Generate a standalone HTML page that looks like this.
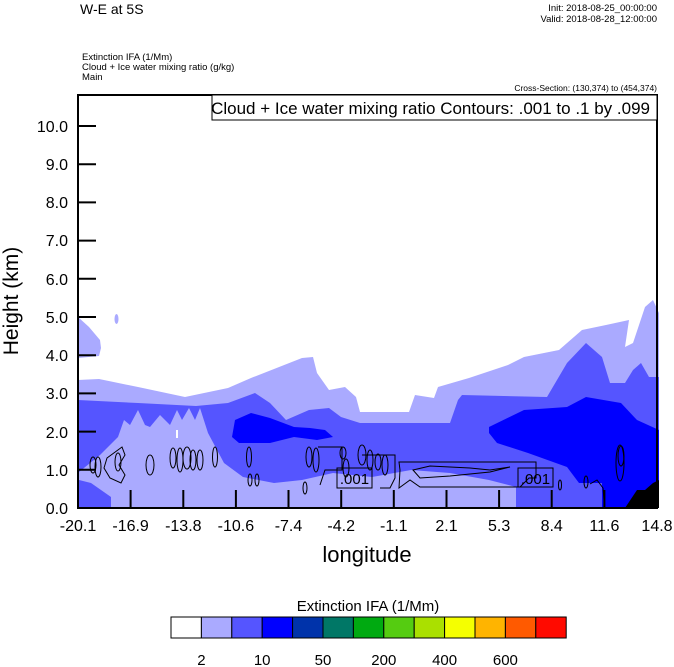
<!DOCTYPE html>
<html><head><meta charset="utf-8"><style>
html,body{margin:0;padding:0;background:#fff;}
svg{display:block;font-family:"Liberation Sans",sans-serif;}
</style></head><body>
<svg width="674" height="667" viewBox="0 0 674 667" xmlns="http://www.w3.org/2000/svg">
<rect width="674" height="667" fill="#fff"/>
<text x="80" y="14" font-size="14">W-E at 5S</text>
<text x="657" y="11" font-size="9.5" text-anchor="end">Init: 2018-08-25_00:00:00</text>
<text x="657" y="22" font-size="9.5" text-anchor="end">Valid: 2018-08-28_12:00:00</text>
<text x="82" y="60" font-size="9.5">Extinction IFA   (1/Mm)</text>
<text x="82" y="70" font-size="9.5">Cloud + Ice water mixing ratio   (g/kg)</text>
<text x="82" y="80" font-size="9.5">Main</text>
<text x="657" y="91" font-size="8.5" text-anchor="end">Cross-Section: (130,374) to (454,374)</text>

<g>
<!-- light layer -->
<polygon fill="#aaaaff" points="78,317 89,327 100,340 101,348 99,356 78,358"/>
<ellipse cx="116.5" cy="319" rx="2" ry="5" fill="#aaaaff"/>
<polygon fill="#aaaaff" points="78,380 99,379 138,387 185,397 228,388 251,378 302,358 313,357 317,373 329,390 345,387 356,397 360,412 409,412 415,395 434,398 438,387 469,378 508,365 524,357 559,350 582,330 606,325 629,320 625,347 633,343 645,307 653,300 659,313 659,508 78,508"/>
<!-- mid layer -->
<polygon fill="#5555ff" points="78,400 138,403 196,406 228,403 255,393 270,403 286,420 309,410 329,408 341,417 360,423 450,423 458,400 462,395 547,397 567,363 586,343 602,357 610,383 625,383 633,370 641,363 649,377 659,377 659,508 78,508"/>
<!-- lower light region -->
<polygon fill="#aaaaff" points="79,472 100,455 118,437 124,420 130,425 138,410 145,425 150,427 160,415 170,425 177,410 182,420 189,408 195,420 200,408 208,433 224,463 243,477 274,483 302,480 333,473 372,477 411,470 450,473 489,480 516,487 516,508 111,508 111,497 91,483 79,480"/>
<!-- blue -->
<polygon fill="#0000ff" points="235,420 251,413 270,418 294,427 310,428 325,430 333,437 317,440 294,437 270,443 239,443 232,437"/>
<polygon fill="#0000ff" points="489,427 524,410 567,407 586,397 621,403 637,420 659,430 659,508 602,508 602,483 579,483 567,467 528,453 497,443 489,433"/>
<polygon fill="#000" points="625,508 637,490 645,490 653,483 659,480 659,508"/>
<rect x="176" y="430" width="2" height="8" fill="#fff"/>
</g>

<!-- contours -->
<g fill="none" stroke="#000" stroke-width="1">
<ellipse cx="93" cy="465" rx="3" ry="8"/>
<ellipse cx="98" cy="467" rx="3" ry="10"/>
<path d="M107,458 L122,447 L125,455 L119,465 L125,475 L121,483 L110,478 L104,468 Z"/>
<ellipse cx="118" cy="462" rx="3" ry="9"/>
<ellipse cx="150" cy="465" rx="4" ry="10"/>
<ellipse cx="173" cy="458" rx="3" ry="10"/>
<ellipse cx="180" cy="460" rx="3" ry="12"/>
<ellipse cx="187" cy="458" rx="4" ry="11"/>
<ellipse cx="193" cy="460" rx="3" ry="10"/>
<ellipse cx="200" cy="460" rx="3" ry="10"/>
<ellipse cx="215" cy="457" rx="2.5" ry="10"/>
<ellipse cx="249" cy="457" rx="2.5" ry="10"/>
<ellipse cx="250" cy="480" rx="2" ry="6"/>
<ellipse cx="257" cy="480" rx="2" ry="6"/>
<ellipse cx="309" cy="457" rx="3" ry="10"/>
<ellipse cx="316" cy="460" rx="3" ry="12"/>
<ellipse cx="305" cy="488" rx="2" ry="6"/>
<path d="M318,447 L342,447 L342,470 L325,470 L320,485"/>
<ellipse cx="343" cy="453" rx="3" ry="6"/>
<ellipse cx="346" cy="468" rx="3" ry="9"/>
<ellipse cx="362" cy="455" rx="4" ry="10"/>
<ellipse cx="370" cy="460" rx="3" ry="10"/>
<ellipse cx="378" cy="462" rx="3" ry="8"/>
<path d="M362,455 L395,455 L395,478 L390,488 L380,488"/>
<ellipse cx="385" cy="465" rx="3" ry="10"/>
<path d="M399,462 L536,462 L536,478 L529,478 L520,487 L420,487 L410,480 L399,488 L400,470 Z"/>
<path d="M413,470 L430,466 L470,468 L490,470 L510,467 L490,472 L450,476 L420,478 Z"/>
<ellipse cx="560" cy="485" rx="1.5" ry="5"/>
<ellipse cx="586" cy="482" rx="2" ry="6"/>
<path d="M590,484 L597,480 L603,488 L604,500"/>
<ellipse cx="620" cy="463" rx="4" ry="18"/>
<ellipse cx="621" cy="456" rx="3" ry="10"/>
</g>
<g font-size="15">
<rect x="337" y="468" width="35" height="20" fill="none" stroke="#000"/>
<text x="354.5" y="484" text-anchor="middle">.001</text>
<rect x="518" y="468" width="35" height="19" fill="none" stroke="#000"/>
<text x="535.5" y="484" text-anchor="middle">.001</text>
</g>

<!-- axes frame -->
<rect x="78" y="95" width="579" height="413" fill="none" stroke="#000" stroke-width="2"/>
<rect x="212" y="95" width="445" height="25" fill="#fff" stroke="#000" stroke-width="1"/>
<text x="650" y="114" font-size="17" text-anchor="end">Cloud + Ice water mixing ratio Contours: .001 to .1 by .099</text>

<!-- y ticks -->
<g stroke="#000" stroke-width="2">
<line x1="78" y1="126" x2="96" y2="126"/><line x1="78" y1="164.2" x2="96" y2="164.2"/>
<line x1="78" y1="202.4" x2="96" y2="202.4"/><line x1="78" y1="240.6" x2="96" y2="240.6"/>
<line x1="78" y1="278.8" x2="96" y2="278.8"/><line x1="78" y1="317" x2="96" y2="317"/>
<line x1="78" y1="355.2" x2="96" y2="355.2"/><line x1="78" y1="393.4" x2="96" y2="393.4"/>
<line x1="78" y1="431.6" x2="96" y2="431.6"/><line x1="78" y1="469.8" x2="96" y2="469.8"/>
<line x1="130.6" y1="508" x2="130.6" y2="490"/><line x1="183.3" y1="508" x2="183.3" y2="490"/>
<line x1="235.9" y1="508" x2="235.9" y2="490"/><line x1="288.5" y1="508" x2="288.5" y2="490"/>
<line x1="341.2" y1="508" x2="341.2" y2="490"/><line x1="393.8" y1="508" x2="393.8" y2="490"/>
<line x1="446.5" y1="508" x2="446.5" y2="490"/><line x1="499.1" y1="508" x2="499.1" y2="490"/>
<line x1="551.7" y1="508" x2="551.7" y2="490"/><line x1="604.4" y1="508" x2="604.4" y2="490"/>
</g>
<g font-size="16" text-anchor="end">
<text x="68" y="132">10.0</text><text x="68" y="170">9.0</text><text x="68" y="208">8.0</text>
<text x="68" y="246">7.0</text><text x="68" y="285">6.0</text><text x="68" y="323">5.0</text>
<text x="68" y="361">4.0</text><text x="68" y="399">3.0</text><text x="68" y="438">2.0</text>
<text x="68" y="476">1.0</text><text x="68" y="514">0.0</text>
</g>
<g font-size="16" text-anchor="middle">
<text x="78" y="531">-20.1</text><text x="130.6" y="531">-16.9</text><text x="183.3" y="531">-13.8</text>
<text x="235.9" y="531">-10.6</text><text x="288.5" y="531">-7.4</text><text x="341.2" y="531">-4.2</text>
<text x="393.8" y="531">-1.1</text><text x="446.5" y="531">2.1</text><text x="499.1" y="531">5.3</text>
<text x="551.7" y="531">8.4</text><text x="604.4" y="531">11.6</text><text x="657" y="531">14.8</text>
</g>
<text x="367" y="562" font-size="22" text-anchor="middle">longitude</text>
<text transform="translate(18,301) rotate(-90)" font-size="21" text-anchor="middle">Height (km)</text>

<!-- colorbar -->
<text x="368" y="611" font-size="15" text-anchor="middle">Extinction IFA  (1/Mm)</text>
<g stroke="#000" stroke-width="1">
<rect x="171" y="617" width="30.4" height="21" fill="#ffffff"/>
<rect x="201.4" y="617" width="30.4" height="21" fill="#aaaaff"/>
<rect x="231.8" y="617" width="30.4" height="21" fill="#5555ff"/>
<rect x="262.2" y="617" width="30.4" height="21" fill="#0000ff"/>
<rect x="292.6" y="617" width="30.4" height="21" fill="#0033aa"/>
<rect x="323" y="617" width="30.4" height="21" fill="#007766"/>
<rect x="353.4" y="617" width="30.4" height="21" fill="#00aa11"/>
<rect x="383.8" y="617" width="30.4" height="21" fill="#55cc11"/>
<rect x="414.2" y="617" width="30.4" height="21" fill="#aae000"/>
<rect x="444.6" y="617" width="30.4" height="21" fill="#f5ff00"/>
<rect x="475" y="617" width="30.4" height="21" fill="#ffb400"/>
<rect x="505.4" y="617" width="30.4" height="21" fill="#ff5a00"/>
<rect x="535.8" y="617" width="30.4" height="21" fill="#ff0a00"/>
</g>
<g font-size="15" text-anchor="middle">
<text x="201.4" y="665">2</text><text x="262.2" y="665">10</text><text x="323" y="665">50</text>
<text x="383.8" y="665">200</text><text x="444.6" y="665">400</text><text x="505.4" y="665">600</text>
</g>
</svg>
</body></html>
